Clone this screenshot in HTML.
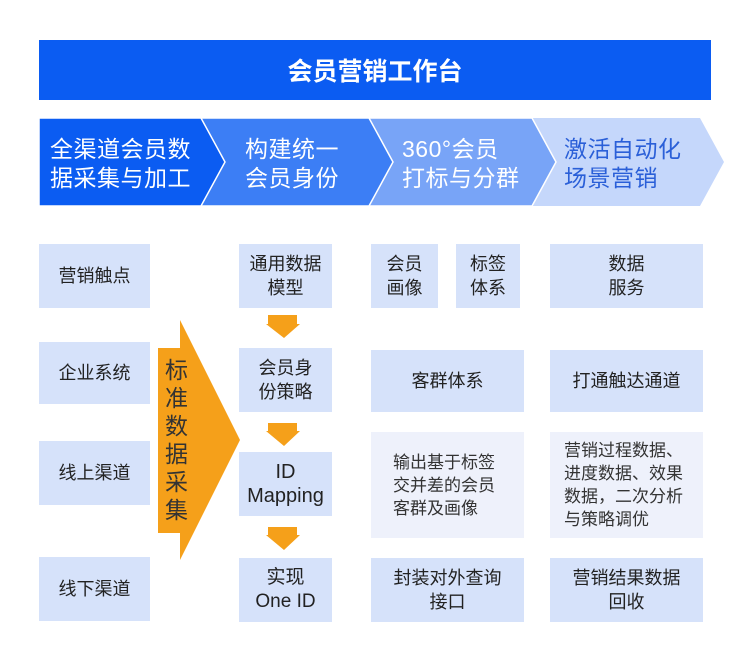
<!DOCTYPE html>
<html><head><meta charset="utf-8"><style>
body{margin:0;width:750px;height:668px;background:#fff;font-family:"Liberation Sans","Noto Sans CJK SC",sans-serif;position:relative;overflow:hidden}
.b{position:absolute;background:#d6e2fa;color:#222;font-size:18px;line-height:24px;display:flex;align-items:center;justify-content:center;text-align:center}
.l{background:#eef1fb;justify-content:flex-start;text-align:left;font-size:17px;line-height:23px;color:#333}
.h{position:absolute;left:39px;top:40px;width:672px;height:60px;background:#0b5cf2;color:#fff;font-size:25px;font-weight:bold;display:flex;align-items:center;justify-content:center}
.ct{position:absolute;font-size:23px;line-height:29px;letter-spacing:0.5px}
</style></head><body>
<div class="h">会员营销工作台</div>
<svg style="position:absolute;left:0;top:0" width="750" height="668">
<polygon points="526,118 700,118 724,162 700,206 526,206 550,162" fill="#c5d7fb"/>
<polygon points="363,118 532,118 556,162 532,206 363,206 387,162" fill="#78a4f7" stroke="#fff" stroke-width="1.5"/>
<polygon points="200,118 369,118 393,162 369,206 200,206 224,162" fill="#3c7ef5" stroke="#fff" stroke-width="1.5"/>
<polygon points="39,118 201,118 225,162 201,206 39,206" fill="#0b5cf2" stroke="#fff" stroke-width="1.5"/>
<polygon points="158,348 180,348 180,320 240,440 180,560 180,533 158,533" fill="#f5a01a"/>
<polygon points="268,315 297,315 297,324 300,324 284,338 266,324 268,324" fill="#f5a01a"/>
<polygon points="268,423 297,423 297,431 300,431 284,446 266,431 268,431" fill="#f5a01a"/>
<polygon points="268,527 297,527 297,535 300,535 284,550 266,535 268,535" fill="#f5a01a"/>
</svg>
<div class="ct" style="left:50px;top:135px;color:#fff">全渠道会员数<br>据采集与加工</div>
<div class="ct" style="left:245px;top:135px;color:#fff">构建统一<br>会员身份</div>
<div class="ct" style="left:402px;top:135px;color:#fff">360°会员<br>打标与分群</div>
<div class="ct" style="left:564px;top:135px;color:#2a5fd8">激活自动化<br>场景营销</div>
<div style="position:absolute;left:165px;top:356px;width:26px;color:#333;font-size:23px;line-height:28px">标准数据采集</div>
<div class="b" style="left:39px;top:244px;width:111px;height:64px">营销触点</div>
<div class="b" style="left:39px;top:342px;width:111px;height:62px">企业系统</div>
<div class="b" style="left:39px;top:441px;width:111px;height:64px">线上渠道</div>
<div class="b" style="left:39px;top:557px;width:111px;height:64px">线下渠道</div>
<div class="b" style="left:239px;top:244px;width:93px;height:64px">通用数据<br>模型</div>
<div class="b" style="left:239px;top:348px;width:93px;height:64px">会员身<br>份策略</div>
<div class="b" style="left:239px;top:452px;width:93px;height:64px;font-size:20px">ID<br>Mapping</div>
<div class="b" style="left:239px;top:558px;width:93px;height:64px;font-size:19px">实现<br>One ID</div>
<div class="b" style="left:371px;top:244px;width:67px;height:64px">会员<br>画像</div>
<div class="b" style="left:456px;top:244px;width:64px;height:64px">标签<br>体系</div>
<div class="b" style="left:371px;top:350px;width:153px;height:62px">客群体系</div>
<div class="b l" style="left:371px;top:432px;width:153px;height:106px;padding-left:22px;box-sizing:border-box">输出基于标签<br>交并差的会员<br>客群及画像</div>
<div class="b" style="left:371px;top:558px;width:153px;height:64px">封装对外查询<br>接口</div>
<div class="b" style="left:550px;top:244px;width:153px;height:64px">数据<br>服务</div>
<div class="b" style="left:550px;top:350px;width:153px;height:62px">打通触达通道</div>
<div class="b l" style="left:550px;top:432px;width:153px;height:106px;padding-left:14px;box-sizing:border-box">营销过程数据、<br>进度数据、效果<br>数据，二次分析<br>与策略调优</div>
<div class="b" style="left:550px;top:558px;width:153px;height:64px">营销结果数据<br>回收</div>
</body></html>
